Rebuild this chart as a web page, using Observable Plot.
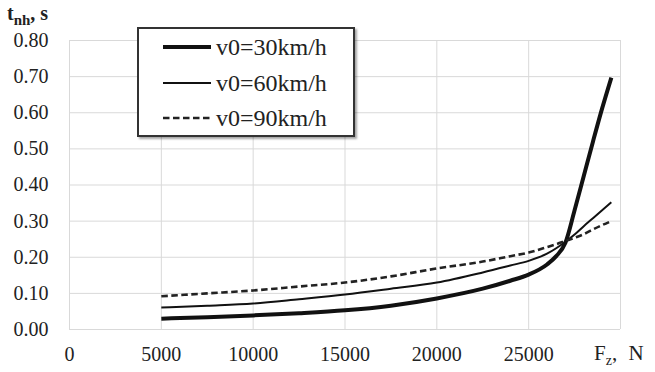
<!DOCTYPE html>
<html>
<head>
<meta charset="utf-8">
<script src="https://cdn.jsdelivr.net/npm/d3@7"></script>
<script src="https://cdn.jsdelivr.net/npm/@observablehq/plot@0.6"></script>
</head>
<body style="margin:0;background:#fff">
<div id="wrap" style="position:relative;width:655px;height:372px;font-family:'Liberation Serif';color:#222"></div>
<script>
// ---- data ----
const fz = [5000, 7500, 10000, 12500, 15000, 17500, 20000, 22500, 24000, 25000, 26000, 26500, 27000, 27500, 28000, 28500, 29000, 29500];
const t30 = [0.030, 0.034, 0.039, 0.045, 0.053, 0.066, 0.086, 0.113, 0.135, 0.152, 0.180, 0.203, 0.240, 0.330, 0.425, 0.520, 0.612, 0.697];
const t60 = [0.061, 0.066, 0.072, 0.084, 0.097, 0.113, 0.130, 0.158, 0.177, 0.190, 0.210, 0.225, 0.243, 0.263, 0.286, 0.308, 0.330, 0.352];
const t90 = [0.092, 0.100, 0.108, 0.119, 0.130, 0.147, 0.169, 0.188, 0.203, 0.213, 0.228, 0.236, 0.245, 0.254, 0.264, 0.277, 0.289, 0.300];
const seriesNames = ["v0=30km/h", "v0=60km/h", "v0=90km/h"];
const seriesValues = [t30, t60, t90];
const xTicks = [0, 5000, 10000, 15000, 20000, 25000];
const xGrid = [0, 5000, 10000, 15000, 20000, 25000, 30000];
const yTicks = [0, 0.1, 0.2, 0.3, 0.4, 0.5, 0.6, 0.7, 0.8];

const FONT = "Liberation Serif";

// styles per series
const styles = [
  {stroke: "#111", strokeWidth: 4, dash: null},
  {stroke: "#111", strokeWidth: 2, dash: null},
  {stroke: "#222", strokeWidth: 2.6, dash: "6.5,3.5"}
];

const rows = [];
seriesNames.forEach((s, i) => fz.forEach((x, j) => rows.push({series: s, fz: x, t: seriesValues[i][j]})));

const lineMarks = seriesNames.map((s, i) => Plot.line(rows.filter(d => d.series === s), {
  x: "fz", y: "t", stroke: styles[i].stroke, strokeWidth: styles[i].strokeWidth,
  strokeDasharray: styles[i].dash, curve: "monotone-x", strokeLinecap: "butt"
}));

const chart = Plot.plot({
  width: 655,
  height: 372,
  marginLeft: 69,
  marginRight: 35,
  marginTop: 40,
  marginBottom: 43,
  style: {fontFamily: FONT, fontSize: "20px", color: "#222", background: "#fff"},
  x: {domain: [0, 30000]},
  y: {domain: [0, 0.8]},
  marks: [
    Plot.gridX(xGrid, {stroke: "#d9d9d9", strokeOpacity: 1}),
    Plot.gridY(yTicks, {stroke: "#d9d9d9", strokeOpacity: 1}),
    Plot.axisX(xTicks, {tickSize: 0, tickPadding: 17, label: null, tickFormat: d => String(d), fontSize: 20}),
    Plot.axisY(yTicks, {tickSize: 0, tickPadding: 21, label: null, tickFormat: d3.format(".2f"), fontSize: 20}),
    ...lineMarks
  ]
});

const wrap = document.getElementById("wrap");
wrap.appendChild(chart);

// y title
const yt = document.createElement("div");
yt.style.cssText = "position:absolute;white-space:nowrap;left:7px;top:1px;font-family:'Liberation Serif';font-size:20px;line-height:24px;font-weight:bold;";
yt.innerHTML = 't<span style="font-size:15px;position:relative;top:5px;">nh</span>, s';
wrap.appendChild(yt);

// x title
const xt = document.createElement("div");
xt.style.cssText = "position:absolute;white-space:nowrap;left:594px;top:341px;font-family:'Liberation Serif';font-size:21px;line-height:24px;word-spacing:6px;";
xt.innerHTML = 'F<span style="font-size:14px;position:relative;top:5px;">z</span>, N';
wrap.appendChild(xt);

// legend
const lg = document.createElement("div");
lg.style.cssText = "position:absolute;left:137px;top:27px;width:218px;height:110px;box-sizing:border-box;border:2px solid #333;background:#fff;box-shadow:2px 2px 2px rgba(0,0,0,0.35);font-family:'Liberation Serif';";
const rowCenters = [20, 56, 91];
seriesNames.forEach((s, i) => {
  const r = document.createElement("div");
  r.style.cssText = `position:absolute;white-space:nowrap;left:24px;top:${rowCenters[i] - 2 - 14}px;height:28px;display:flex;align-items:center;font-family:'Liberation Serif';font-size:24px;line-height:28px;`;
  const st = styles[i];
  r.innerHTML = `<svg width="49" height="10" style="display:block"><line x1="0" x2="48" y1="5" y2="5" stroke="${st.stroke}" stroke-width="${st.strokeWidth}" ${st.dash ? `stroke-dasharray="${st.dash}"` : ""}/></svg><span style="margin-left:4px">${s}</span>`;
  lg.appendChild(r);
});
wrap.appendChild(lg);
</script>
</body>
</html>
